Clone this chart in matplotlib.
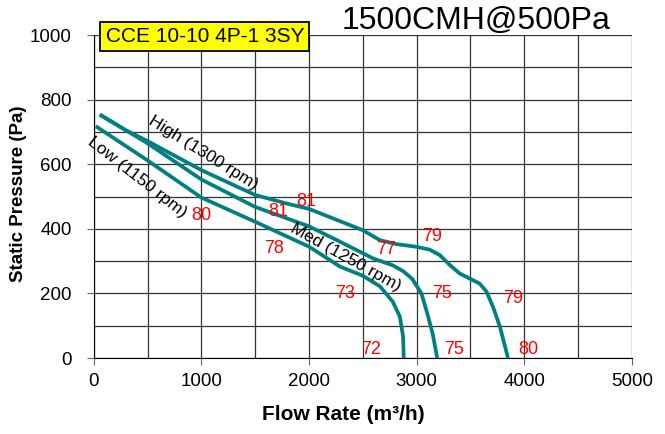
import matplotlib.pyplot as plt
from matplotlib.ticker import MultipleLocator

plt.rcParams['font.family'] = ['Liberation Sans', 'DejaVu Sans']

# fan curves (flow m3/h, static pressure Pa)
high_flow = [56, 300, 500, 1000, 1500, 1800, 2000, 2500, 2660, 2810, 2990, 3120, 3215, 3310,
             3400, 3495, 3585, 3650, 3710, 3775, 3850]
high_p = [754, 705, 672, 582, 505, 478, 462, 396, 365, 353, 345, 336, 319, 288,
          262, 246, 231, 206, 159, 97, 0]

med_flow = [56, 300, 500, 1000, 1500, 2000, 2290, 2600, 2780, 2880, 2960, 3045, 3100, 3150, 3192]
med_p = [754, 705, 665, 553, 468, 408, 360, 308, 287, 268, 245, 200, 138, 75, 0]

low_flow = [19, 500, 1000, 1500, 2000, 2290, 2500, 2660, 2780, 2845, 2875, 2881]
low_p = [718, 612, 497, 422, 345, 283, 255, 222, 174, 128, 66, 0]

# sound level labels (dB) and where they sit
noise_vals = ['81', '81', '80', '78', '77', '79', '73', '75', '79', '72', '75', '80']
noise_x = [1977, 1710, 1000, 1673, 2720, 3141, 2333, 3234, 3894, 2574, 3346, 4043]
noise_y = [486, 453, 441, 339, 337, 376, 200, 200, 184, 25, 25, 25]

fig = plt.figure(figsize=(6.65, 4.34), dpi=100)
ax = fig.add_axes([0.141, 0.175, 0.809, 0.744])

teal = '#008080'
for fx, fp in [(high_flow, high_p), (med_flow, med_p), (low_flow, low_p)]:
    ax.plot(fx, fp, color=teal, lw=2.7, solid_joinstyle='round', solid_capstyle='butt', zorder=3)

ax.set_xlim(0, 5000)
ax.set_ylim(0, 1000)
ax.xaxis.set_major_locator(MultipleLocator(1000))
ax.xaxis.set_minor_locator(MultipleLocator(500))
ax.yaxis.set_major_locator(MultipleLocator(200))
ax.yaxis.set_minor_locator(MultipleLocator(100))
ax.grid(True, which='both', color='#333333', lw=0.9)
ax.tick_params(which='major', length=5, labelsize=13.5, color='#666666')
ax.tick_params(axis='y', pad=11)
ax.tick_params(axis='x', pad=6)
ax.tick_params(which='minor', length=0)
for s in ['top', 'right']:
    ax.spines[s].set_visible(False)
for s in ['left', 'bottom']:
    ax.spines[s].set_color('black')

ax.set_xlabel('Flow Rate (m³/h)', fontsize=15, fontweight='bold')
ax.set_ylabel('Static Pressure (Pa)', fontsize=13.5, fontweight='bold')
ax.xaxis.set_label_coords(0.464, -0.145)
ax.yaxis.set_label_coords(-0.125, 0.509)

ax.text(1013, 635, 'High (1300 rpm)', rotation=-32, fontsize=12.5, ha='center', va='center',
        rotation_mode='anchor', zorder=4)
ax.text(400, 560, 'Low (1150 rpm)', rotation=-38, fontsize=12.5, ha='center', va='center',
        rotation_mode='anchor', zorder=4)
ax.text(2340, 313, 'Med (1250 rpm)', rotation=-29, fontsize=12.5, ha='center', va='center',
        rotation_mode='anchor', zorder=4)

for v, x, y in zip(noise_vals, noise_x, noise_y):
    ax.text(x, y, v, color='red', fontsize=13, ha='center', va='center', zorder=4)

fig.text(0.716, 0.952, '1500CMH@500Pa', fontsize=23, ha='center', va='center')
fig.text(0.308, 0.916, 'CCE 10-10 4P-1 3SY', fontsize=15, ha='center', va='center',
         bbox=dict(boxstyle='square,pad=0.25', fc='yellow', ec='black', lw=1.3))

fig.savefig('out.png', dpi=100)
